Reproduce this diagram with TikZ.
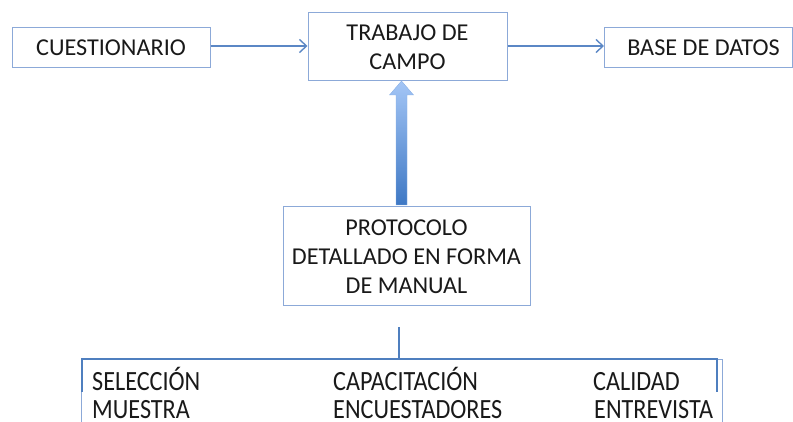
\documentclass[tikz,border=0pt]{standalone}
\usepackage{fontspec}
\setmainfont{Carlito}
\usetikzlibrary{arrows.meta,calc}
\definecolor{boxline}{HTML}{8CA9D8}
\definecolor{arrline}{HTML}{5B87C5}
\definecolor{brk}{HTML}{4F7FBF}
\definecolor{shtop}{HTML}{A4C6F6}
\definecolor{shbot}{HTML}{3E78C4}
\tikzset{
  box/.style={draw=boxline, line width=1pt, inner sep=0pt, align=center,
    font=\fontsize{24.2}{29}\selectfont, text=black!90},
  conn/.style={draw=arrline, line width=1.6pt, -{Straight Barb[length=7pt,width=13pt,line width=1.4pt]}},
  brack/.style={draw=brk, line width=2.6pt},
  lbl/.style={anchor=base west, inner sep=0pt, font=\fontsize{24.2}{29}\selectfont, text=black!90, yscale=1.15, transform shape}
}
\begin{document}
\begin{tikzpicture}[x=1pt,y=-1pt]
\useasboundingbox (0,0) rectangle (793,422);
\clip (0,0) rectangle (793,422);
\node[box, minimum width=198pt, minimum height=40pt] (cues) at (111,48) {CUESTIONARIO};
\node[box, minimum width=199pt, minimum height=68pt] (trab) at (407.5,47) {TRABAJO DE\\CAMPO};
\node[box, minimum width=188pt, minimum height=40pt] (base) at (698.5,47.5) {\hspace*{10pt}BASE DE DATOS};
\node[box, minimum width=247pt, minimum height=99pt] (proto) at (406.5,256.5) {PROTOCOLO\\DETALLADO EN FORMA\\DE MANUAL};
\draw[conn] (cues.east |- 0,46) -- (trab.west |- 0,46);
\draw[conn] (trab.east |- 0,46) -- (base.west |- 0,46);
% block arrow
\coordinate (tip) at (401.5,81);
\coordinate (tail) at (401.5,205);
\shade[top color=shtop, bottom color=shbot, draw=shtop!70!brk, line width=0.4pt]
  ($(tail)+(-5.5,0)$) -- ($(tip)+(-5.5,14)$) -- ($(tip)+(-12,14)$) -- (tip)
  -- ($(tip)+(12,14)$) -- ($(tip)+(5.5,14)$) -- ($(tail)+(5.5,0)$) -- cycle;
% text box at bottom
\node[draw=boxline, line width=0.8pt, minimum width=641pt, minimum height=80pt, anchor=north west, inner sep=0pt] (list) at (80.5,359) {};
% bracket
\coordinate (stemtop) at (399,327);
\coordinate (bl) at (82,392);
\coordinate (br) at (717,392);
\draw[brack] (stemtop) -- (stemtop |- list.north);
\draw[brack] (bl) -- (bl |- list.north) -- (br |- list.north) -- (br);
\node[lbl] (s1) at (92,390) {SELECCIÓN};
\node[lbl] (s2) at (92,418) {MUESTRA};
\node[lbl] (c1) at (333,390) {CAPACITACIÓN};
\node[lbl] (c2) at (333,418) {ENCUESTADORES};
\node[lbl] (q1) at (593,390) {CALIDAD};
\node[lbl] (q2) at (594,418) {ENTREVISTA};
\end{tikzpicture}
\end{document}
